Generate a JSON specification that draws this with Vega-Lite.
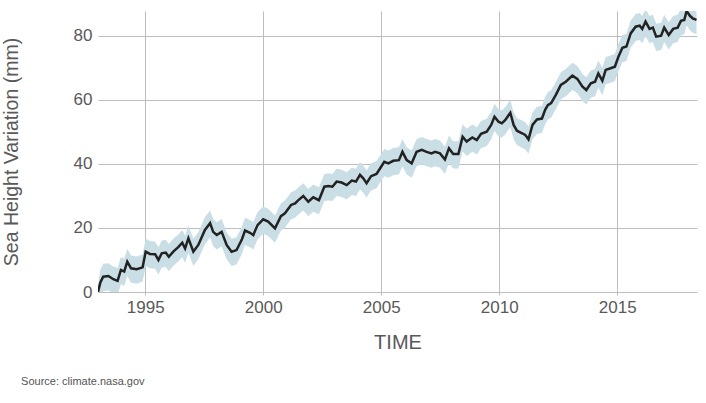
{
  "$schema": "https://vega.github.io/schema/vega-lite/v6.json",
  "width": 599,
  "height": 281,
  "autosize": {"type": "none"},
  "padding": {"left": 98, "top": 11, "right": 9, "bottom": 111},
  "background": "white",
  "title": {
    "text": "Source: climate.nasa.gov",
    "orient": "bottom",
    "anchor": "start",
    "frame": "bounds",
    "offset": 24,
    "dx": 20,
    "fontSize": 11,
    "fontWeight": "normal",
    "font": "Liberation Sans",
    "color": "#555555"
  },
  "config": {
    "view": {"stroke": null},
    "font": "Liberation Sans",
    "axis": {
      "domain": false,
      "gridColor": "#bdbdbd",
      "gridWidth": 1,
      "tickColor": "#bdbdbd",
      "labelColor": "#595959",
      "titleColor": "#595959",
      "labelFont": "Liberation Sans",
      "titleFont": "Liberation Sans",
      "titleFontWeight": "normal"
    }
  },
  "data": {
    "values": [
      {"t": 1993.00, "v": 0.0, "lo": 0.0, "hi": 2.0},
      {"t": 1993.10, "v": 3.0, "lo": -1.5, "hi": 7.0},
      {"t": 1993.22, "v": 4.8, "lo": 0.3, "hi": 8.8},
      {"t": 1993.44, "v": 5.0, "lo": 0.5, "hi": 9.0},
      {"t": 1993.65, "v": 4.0, "lo": -0.5, "hi": 8.0},
      {"t": 1993.83, "v": 3.5, "lo": -1.0, "hi": 7.5},
      {"t": 1993.97, "v": 6.9, "lo": 2.4, "hi": 10.9},
      {"t": 1994.11, "v": 6.4, "lo": 1.9, "hi": 10.4},
      {"t": 1994.24, "v": 9.5, "lo": 5.0, "hi": 13.5},
      {"t": 1994.40, "v": 7.4, "lo": 2.9, "hi": 11.4},
      {"t": 1994.64, "v": 7.1, "lo": 2.6, "hi": 11.1},
      {"t": 1994.89, "v": 7.7, "lo": 3.2, "hi": 11.7},
      {"t": 1995.02, "v": 12.6, "lo": 8.1, "hi": 16.6},
      {"t": 1995.20, "v": 11.9, "lo": 7.4, "hi": 15.9},
      {"t": 1995.42, "v": 11.8, "lo": 7.3, "hi": 15.8},
      {"t": 1995.56, "v": 10.0, "lo": 5.5, "hi": 14.0},
      {"t": 1995.70, "v": 12.1, "lo": 7.6, "hi": 16.1},
      {"t": 1995.87, "v": 12.3, "lo": 7.8, "hi": 16.3},
      {"t": 1996.00, "v": 11.0, "lo": 6.5, "hi": 15.0},
      {"t": 1996.19, "v": 12.6, "lo": 8.1, "hi": 16.6},
      {"t": 1996.40, "v": 14.0, "lo": 9.5, "hi": 18.0},
      {"t": 1996.57, "v": 15.4, "lo": 10.9, "hi": 19.4},
      {"t": 1996.69, "v": 13.6, "lo": 9.1, "hi": 17.6},
      {"t": 1996.83, "v": 16.8, "lo": 12.3, "hi": 20.8},
      {"t": 1997.04, "v": 12.6, "lo": 8.1, "hi": 16.6},
      {"t": 1997.25, "v": 14.7, "lo": 10.2, "hi": 18.7},
      {"t": 1997.53, "v": 19.4, "lo": 14.9, "hi": 23.4},
      {"t": 1997.75, "v": 21.5, "lo": 17.0, "hi": 25.5},
      {"t": 1997.88, "v": 18.8, "lo": 14.3, "hi": 22.8},
      {"t": 1998.03, "v": 17.8, "lo": 13.3, "hi": 21.8},
      {"t": 1998.24, "v": 18.8, "lo": 14.3, "hi": 22.8},
      {"t": 1998.45, "v": 14.7, "lo": 10.2, "hi": 18.7},
      {"t": 1998.66, "v": 12.6, "lo": 8.1, "hi": 16.6},
      {"t": 1998.87, "v": 13.1, "lo": 8.6, "hi": 17.1},
      {"t": 1999.09, "v": 16.3, "lo": 11.8, "hi": 20.3},
      {"t": 1999.23, "v": 19.2, "lo": 14.7, "hi": 23.2},
      {"t": 1999.44, "v": 18.5, "lo": 14.0, "hi": 22.5},
      {"t": 1999.58, "v": 17.8, "lo": 13.3, "hi": 21.8},
      {"t": 1999.76, "v": 20.9, "lo": 16.4, "hi": 24.9},
      {"t": 2000.00, "v": 22.7, "lo": 18.2, "hi": 26.7},
      {"t": 2000.21, "v": 22.0, "lo": 17.5, "hi": 26.0},
      {"t": 2000.50, "v": 19.9, "lo": 15.4, "hi": 23.9},
      {"t": 2000.75, "v": 23.7, "lo": 19.2, "hi": 27.7},
      {"t": 2000.92, "v": 24.6, "lo": 20.1, "hi": 28.6},
      {"t": 2001.18, "v": 27.2, "lo": 22.7, "hi": 31.2},
      {"t": 2001.35, "v": 27.7, "lo": 23.2, "hi": 31.7},
      {"t": 2001.49, "v": 28.7, "lo": 24.2, "hi": 32.7},
      {"t": 2001.70, "v": 30.0, "lo": 25.5, "hi": 34.0},
      {"t": 2001.91, "v": 28.2, "lo": 23.7, "hi": 32.2},
      {"t": 2002.12, "v": 29.6, "lo": 25.1, "hi": 33.6},
      {"t": 2002.36, "v": 28.7, "lo": 24.2, "hi": 32.7},
      {"t": 2002.59, "v": 32.9, "lo": 28.4, "hi": 36.9},
      {"t": 2002.76, "v": 33.1, "lo": 28.6, "hi": 37.1},
      {"t": 2002.93, "v": 32.9, "lo": 28.4, "hi": 36.9},
      {"t": 2003.11, "v": 34.5, "lo": 30.0, "hi": 38.5},
      {"t": 2003.32, "v": 34.2, "lo": 29.7, "hi": 38.2},
      {"t": 2003.54, "v": 33.4, "lo": 28.9, "hi": 37.4},
      {"t": 2003.75, "v": 34.8, "lo": 30.3, "hi": 38.8},
      {"t": 2003.93, "v": 34.5, "lo": 30.0, "hi": 38.5},
      {"t": 2004.10, "v": 36.6, "lo": 32.1, "hi": 40.6},
      {"t": 2004.24, "v": 35.5, "lo": 31.0, "hi": 39.5},
      {"t": 2004.38, "v": 34.0, "lo": 29.5, "hi": 38.0},
      {"t": 2004.57, "v": 36.2, "lo": 31.7, "hi": 40.2},
      {"t": 2004.80, "v": 36.9, "lo": 32.4, "hi": 40.9},
      {"t": 2004.95, "v": 38.6, "lo": 34.1, "hi": 42.6},
      {"t": 2005.13, "v": 40.7, "lo": 36.2, "hi": 44.7},
      {"t": 2005.30, "v": 40.2, "lo": 35.7, "hi": 44.2},
      {"t": 2005.51, "v": 41.0, "lo": 36.5, "hi": 45.0},
      {"t": 2005.75, "v": 41.2, "lo": 36.7, "hi": 45.2},
      {"t": 2005.90, "v": 43.8, "lo": 39.3, "hi": 47.8},
      {"t": 2006.08, "v": 41.2, "lo": 36.7, "hi": 45.2},
      {"t": 2006.29, "v": 40.2, "lo": 35.7, "hi": 44.2},
      {"t": 2006.50, "v": 43.8, "lo": 39.3, "hi": 47.8},
      {"t": 2006.72, "v": 44.4, "lo": 39.9, "hi": 48.4},
      {"t": 2006.92, "v": 43.8, "lo": 39.3, "hi": 47.8},
      {"t": 2007.13, "v": 43.3, "lo": 38.8, "hi": 47.3},
      {"t": 2007.28, "v": 43.8, "lo": 39.3, "hi": 47.8},
      {"t": 2007.49, "v": 43.3, "lo": 38.8, "hi": 47.3},
      {"t": 2007.70, "v": 41.4, "lo": 36.9, "hi": 45.4},
      {"t": 2007.87, "v": 44.9, "lo": 40.4, "hi": 48.9},
      {"t": 2008.05, "v": 43.1, "lo": 38.6, "hi": 47.1},
      {"t": 2008.27, "v": 43.1, "lo": 38.6, "hi": 47.1},
      {"t": 2008.45, "v": 48.5, "lo": 44.0, "hi": 52.5},
      {"t": 2008.62, "v": 47.0, "lo": 42.5, "hi": 51.0},
      {"t": 2008.86, "v": 48.3, "lo": 43.8, "hi": 52.3},
      {"t": 2009.05, "v": 47.5, "lo": 43.0, "hi": 51.5},
      {"t": 2009.23, "v": 49.4, "lo": 44.9, "hi": 53.4},
      {"t": 2009.47, "v": 50.1, "lo": 45.6, "hi": 54.1},
      {"t": 2009.66, "v": 52.2, "lo": 47.7, "hi": 56.2},
      {"t": 2009.80, "v": 54.8, "lo": 50.3, "hi": 58.8},
      {"t": 2009.97, "v": 53.2, "lo": 48.7, "hi": 57.2},
      {"t": 2010.11, "v": 52.7, "lo": 48.2, "hi": 56.7},
      {"t": 2010.25, "v": 53.7, "lo": 49.2, "hi": 57.7},
      {"t": 2010.47, "v": 56.0, "lo": 51.5, "hi": 60.0},
      {"t": 2010.61, "v": 52.2, "lo": 47.7, "hi": 56.2},
      {"t": 2010.75, "v": 50.4, "lo": 45.9, "hi": 54.4},
      {"t": 2010.97, "v": 49.6, "lo": 45.1, "hi": 53.6},
      {"t": 2011.10, "v": 49.1, "lo": 44.6, "hi": 53.1},
      {"t": 2011.24, "v": 47.7, "lo": 43.2, "hi": 51.7},
      {"t": 2011.41, "v": 52.2, "lo": 47.7, "hi": 56.2},
      {"t": 2011.60, "v": 53.9, "lo": 49.4, "hi": 57.9},
      {"t": 2011.81, "v": 54.2, "lo": 49.7, "hi": 58.2},
      {"t": 2011.95, "v": 57.0, "lo": 52.5, "hi": 61.0},
      {"t": 2012.06, "v": 58.4, "lo": 53.9, "hi": 62.4},
      {"t": 2012.20, "v": 59.0, "lo": 54.5, "hi": 63.0},
      {"t": 2012.40, "v": 61.6, "lo": 57.1, "hi": 65.6},
      {"t": 2012.61, "v": 64.7, "lo": 60.2, "hi": 68.7},
      {"t": 2012.82, "v": 65.7, "lo": 61.2, "hi": 69.7},
      {"t": 2013.10, "v": 67.6, "lo": 63.1, "hi": 71.6},
      {"t": 2013.31, "v": 66.6, "lo": 62.1, "hi": 70.6},
      {"t": 2013.52, "v": 64.2, "lo": 59.7, "hi": 68.2},
      {"t": 2013.69, "v": 63.1, "lo": 58.6, "hi": 67.1},
      {"t": 2013.88, "v": 65.2, "lo": 60.7, "hi": 69.2},
      {"t": 2014.06, "v": 65.7, "lo": 61.2, "hi": 69.7},
      {"t": 2014.20, "v": 68.3, "lo": 63.8, "hi": 72.3},
      {"t": 2014.37, "v": 66.0, "lo": 61.5, "hi": 70.0},
      {"t": 2014.51, "v": 69.4, "lo": 64.9, "hi": 73.4},
      {"t": 2014.72, "v": 69.9, "lo": 65.4, "hi": 73.9},
      {"t": 2014.90, "v": 70.4, "lo": 65.9, "hi": 74.4},
      {"t": 2015.05, "v": 73.5, "lo": 69.0, "hi": 77.5},
      {"t": 2015.22, "v": 76.3, "lo": 71.8, "hi": 80.3},
      {"t": 2015.39, "v": 76.7, "lo": 72.2, "hi": 80.7},
      {"t": 2015.57, "v": 80.8, "lo": 76.3, "hi": 84.8},
      {"t": 2015.78, "v": 82.9, "lo": 78.4, "hi": 86.9},
      {"t": 2015.95, "v": 83.2, "lo": 78.7, "hi": 87.2},
      {"t": 2016.06, "v": 82.2, "lo": 77.7, "hi": 86.2},
      {"t": 2016.20, "v": 84.5, "lo": 80.0, "hi": 88.5},
      {"t": 2016.37, "v": 82.2, "lo": 77.7, "hi": 86.2},
      {"t": 2016.51, "v": 82.6, "lo": 78.1, "hi": 86.6},
      {"t": 2016.65, "v": 79.8, "lo": 75.3, "hi": 83.8},
      {"t": 2016.86, "v": 80.1, "lo": 75.6, "hi": 84.1},
      {"t": 2016.99, "v": 82.6, "lo": 78.1, "hi": 86.6},
      {"t": 2017.18, "v": 80.3, "lo": 75.8, "hi": 84.3},
      {"t": 2017.37, "v": 82.2, "lo": 77.7, "hi": 86.2},
      {"t": 2017.56, "v": 82.6, "lo": 78.1, "hi": 86.6},
      {"t": 2017.70, "v": 84.7, "lo": 80.2, "hi": 88.7},
      {"t": 2017.84, "v": 85.0, "lo": 80.5, "hi": 89.0},
      {"t": 2017.94, "v": 87.8, "lo": 83.3, "hi": 91.8},
      {"t": 2018.08, "v": 86.3, "lo": 81.8, "hi": 90.3},
      {"t": 2018.20, "v": 85.5, "lo": 81.0, "hi": 89.5},
      {"t": 2018.36, "v": 85.0, "lo": 80.5, "hi": 89.0}
    ]
  },
  "encoding": {
    "x": {
      "field": "t",
      "type": "quantitative",
      "scale": {"domain": [1993, 2018.38], "nice": false, "zero": false},
      "axis": {
        "values": [1995, 2000, 2005, 2010, 2015],
        "format": "d",
        "title": "TIME",
        "labelFontSize": 17,
        "titleFontSize": 20,
        "tickSize": 3,
        "labelPadding": 4,
        "titlePadding": 17,
        "grid": true
      }
    }
  },
  "layer": [
    {
      "mark": {"type": "area", "color": "#cadee6", "opacity": 1, "clip": true},
      "encoding": {
        "y": {
          "field": "lo",
          "type": "quantitative",
          "scale": {"domain": [0, 87.8], "nice": false},
          "axis": {
            "values": [0, 20, 40, 60, 80],
            "title": "Sea Height Variation (mm)",
            "labelFontSize": 17,
            "titleFontSize": 19.5,
            "ticks": false,
            "labelPadding": 6,
            "titlePadding": 52,
            "grid": true
          }
        },
        "y2": {"field": "hi"}
      }
    },
    {
      "mark": {"type": "line", "color": "#222222", "strokeWidth": 2.5, "clip": true},
      "encoding": {
        "y": {"field": "v", "type": "quantitative"}
      }
    }
  ]
}
